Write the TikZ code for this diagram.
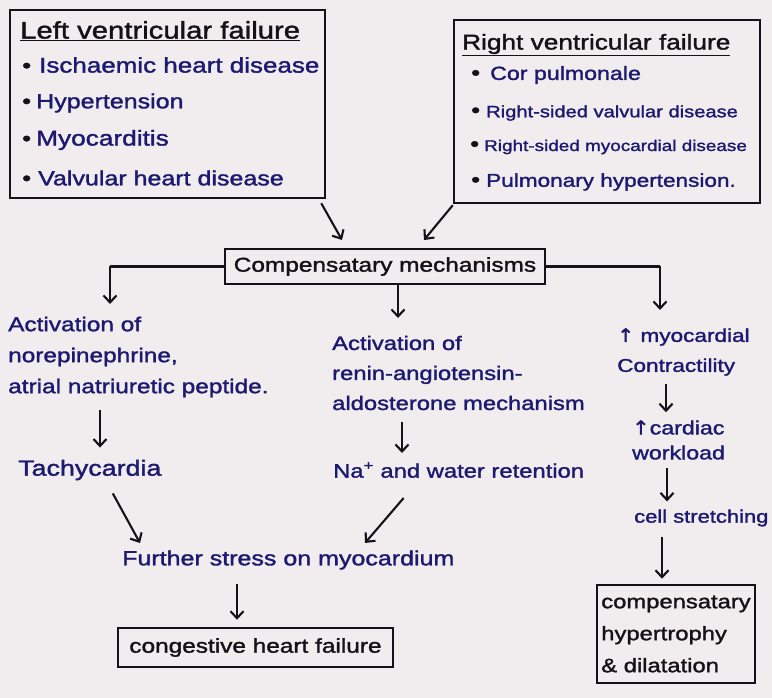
\documentclass[tikz,border=0pt]{standalone}
\usepackage{fontspec}
\setmainfont{Liberation Sans}
\newfontfamily\hand[FakeStretch=1.22,FakeBold=1.6]{Liberation Sans}
\newfontfamily\symfont[FakeStretch=1.1,FakeBold=1.6]{DejaVu Sans}
\usetikzlibrary{arrows.meta}
\definecolor{paper}{RGB}{241,237,238}
\definecolor{ink}{RGB}{28,26,112}
\definecolor{pen}{RGB}{18,18,24}
\newcommand{\upar}{{\symfont\char"2191}}
% list bullet of fixed size and width
\newcommand{\blt}[1]{\makebox[#1][l]{\color{pen}\fontsize{21}{21}\selectfont•}}
\tikzset{
  hw/.style 2 args={font=\hand\fontsize{#1}{#2}\selectfont, inner sep=0pt, anchor=west},
  blue/.style={text=ink},
  black/.style={text=pen},
  frame/.style={draw=pen, line width=2.5pt},
  arr/.style={draw=pen, line width=2.1pt, -{Straight Barb[length=7pt,width=13pt,line width=2.1pt]}},
  link/.style={draw=pen, line width=2.1pt},
}
\begin{document}
\begin{tikzpicture}[x=1pt,y=-1pt]
\fill[paper] (0,0) rectangle (772,698);
\useasboundingbox (0,0) rectangle (772,698);

% ---- left ventricular failure box
\node[frame, minimum width=315pt, minimum height=188pt] (lvf) at (167.5,104) {};
\node[hw={24}{28}, black] (lvft) at (20,31) {\underline{Left ventricular failure}};
\node[hw={21.3}{25}, blue] (l1) at (22,65) {\blt{17pt}Ischaemic heart disease};
\node[hw={20.5}{25}, blue] (l2) at (22,103) {\blt{14pt}Hypertension};
\node[hw={21.5}{25}, blue] (l3) at (22,140) {\blt{14pt}Myocarditis};
\node[hw={20.5}{25}, blue] (l4) at (22,178) {\blt{16pt}Valvular heart disease};

% ---- right ventricular failure box
\node[frame, minimum width=306pt, minimum height=183pt] (rvf) at (607,111.5) {};
\node[hw={21.5}{26}, black] (rvft) at (462,45) {\underline{Right ventricular failure}};
\node[hw={19}{24}, blue] (r1) at (471,75) {\blt{19pt}Cor pulmonale};
\node[hw={16.5}{22}, blue] (r2) at (471,113) {\blt{15pt}Right-sided valvular disease};
\node[hw={15.5}{22}, blue] (r3) at (470,147) {\blt{14pt}Right-sided myocardial disease};
\node[hw={18.5}{24}, blue] (r4) at (471,182) {\blt{15pt}Pulmonary hypertension.};

% ---- compensatory mechanisms
\node[frame, minimum width=320pt, minimum height=35pt, font=\hand\fontsize{20}{24}\selectfont, text=pen]
  (comp) at (385,266.5) {Compensatary mechanisms};

% ---- left branch
\node[hw={20}{31}, blue, align=left] (noradr) at (8,357)
  {Activation of\\norepinephrine,\\atrial natriuretic peptide.};
\node[hw={22}{26}, blue] (tachy) at (18,470) {Tachycardia};

% ---- middle branch
\node[hw={19.5}{30}, blue, align=left] (ras) at (332,373)
  {Activation of\\renin-angiotensin-\\aldosterone mechanism};
\node[hw={19.5}{24}, blue] (na) at (333,470) {Na\textsuperscript{+} and water retention};

% ---- right branch
\node[hw={18.5}{30}, blue, align=left] (contr) at (617,352) {\upar\ myocardial\\Contractility};
\node[hw={19}{25}, blue, align=left] (work) at (632,440) {\upar cardiac\\workload};
\node[hw={18}{22}, blue] (cell) at (634,518) {cell stretching};
\node[frame, minimum width=158pt, minimum height=98pt, align=left,
  font=\hand\fontsize{19.5}{32}\selectfont, text=pen, inner sep=0pt]
  (hyper) at (676,634) {compensatary\\hypertrophy\\\& dilatation};

% ---- convergence
\node[hw={20.5}{24}, blue] (stress) at (122,560) {Further stress on myocardium};
\node[frame, minimum width=275pt, minimum height=39pt, font=\hand\fontsize{20}{24}\selectfont, text=pen]
  (chf) at (255.5,647.5) {congestive heart failure};

% ---- arrow end points
\coordinate (tl) at (342,240);
\coordinate (tr) at (424,240);
\coordinate (bl) at (110,266.5);
\coordinate (tbl) at (110,304);
\coordinate (br) at (660,266.5);
\coordinate (tbr) at (660,310);
\coordinate (xm) at (398,0);
\coordinate (tm) at (398,318);
\coordinate (xl) at (100,0);
\coordinate (xn) at (402,0);
\coordinate (ts1) at (140,543);
\coordinate (ts2) at (365,543);
\coordinate (xs) at (237,0);
\coordinate (xr1) at (666,0);
\coordinate (xr2) at (667,0);
\coordinate (xr3) at (662,0);

% ---- connectors
\draw[arr] ([xshift=-5pt,yshift=-4pt]lvf.south east) -- (tl);
\draw[arr] ([yshift=-1pt]rvf.south west) -- (tr);
\draw[link] (comp.west) -- (bl);
\draw[arr] (bl) -- (tbl);
\draw[link] (comp.east) -- (br);
\draw[arr] (br) -- (tbr);
\draw[arr] (comp.south -| xm) -- (tm);
\draw[arr, shorten <=12pt, shorten >=12pt] (noradr.south -| xl) -- (tachy.north -| xl);
\draw[arr, shorten <=12pt, shorten >=9pt] (ras.south -| xn) -- (na.north -| xn);
\draw[arr] ([xshift=23pt,yshift=-13pt]tachy.south) -- (ts1);
\draw[arr] ([xshift=-55pt,yshift=-20pt]na.south) -- (ts2);
\draw[arr, shorten <=14pt, shorten >=7pt] (stress.south -| xs) -- (chf.north -| xs);
\draw[arr, shorten <=8pt, shorten >=8pt] (contr.south -| xr1) -- (work.north -| xr1);
\draw[arr, shorten <=8pt, shorten >=8pt] (work.south -| xr2) -- (cell.north -| xr2);
\draw[arr, shorten <=10pt, shorten >=5pt] (cell.south -| xr3) -- (hyper.north -| xr3);
\end{tikzpicture}
\end{document}
